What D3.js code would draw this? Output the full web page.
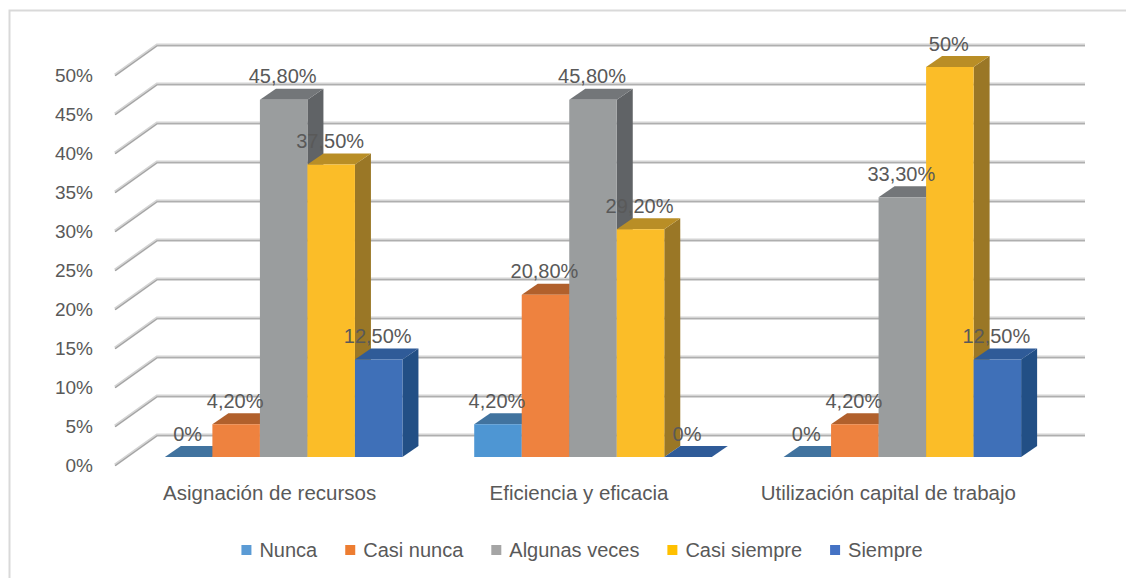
<!DOCTYPE html>
<html>
<head>
<meta charset="utf-8">
<script src="https://cdn.jsdelivr.net/npm/d3@7"></script>
<style>
  body { margin: 0; background: #fff; }
  svg { display: block; font-family: "Liberation Sans", Arial, sans-serif; }
</style>
</head>
<body>
<svg id="chart" width="1126" height="578"></svg>
<script>
// categories and series
const categories = ["Asignación de recursos", "Eficiencia y eficacia", "Utilización capital de trabajo"];
const series = ["Nunca", "Casi nunca", "Algunas veces", "Casi siempre", "Siempre"];

// values in % per category
const nunca = [0, 4.2, 0];
const casiNunca = [4.2, 20.8, 4.2];
const algunasVeces = [45.8, 45.8, 33.3];
const casiSiempre = [37.5, 29.2, 50];
const siempre = [12.5, 0, 12.5];

const yTicks = [0, 5, 10, 15, 20, 25, 30, 35, 40, 45, 50];

const values = [nunca, casiNunca, algunasVeces, casiSiempre, siempre];

// legend colour + shaded faces
const legendColors = ["#5B9BD5", "#ED7D31", "#A5A5A5", "#FFC000", "#4472C4"];
const frontColors = ["#4e96d3", "#ee823f", "#9a9d9e", "#fbbd28", "#3f70b8"];
const topColors = ["#41739f", "#b1602c", "#737679", "#b98e26", "#2f5b98"];
const sideColors = ["#36638a", "#9a5225", "#606366", "#9a7726", "#224f85"];

const textColor = "#595959";
const svg = d3.select("#chart");

// outer frame (only top/left visible)
svg.append("rect")
    .attr("x", 9.5).attr("y", 10.5)
    .attr("width", 1130).attr("height", 580)
    .attr("fill", "none").attr("stroke", "#d9d9d9").attr("stroke-width", 2);

const x = d3.scaleBand().domain(categories).range([129, 1057]).paddingInner(0.232).paddingOuter(0.116);
const xs = d3.scaleBand().domain(series).range([0, x.bandwidth()]);
const y = d3.scaleLinear().domain([0, 50]).range([457, 67]); // front plane of the bars

// 3d offsets
const wall = {dy: -22, x0: 157, x1: 1085, frontX: 115, frontDy: 8};
const depth = {dx: 16, dy: -11};

// gridlines: diagonal on the side wall, then across the back wall
const grid = svg.append("g");
yTicks.forEach(t => {
    const yb = y(t) + wall.dy;
    const p = `M${wall.frontX},${y(t) + wall.frontDy}L${wall.x0},${yb}L${wall.x1},${yb}`;
    grid.append("path").attr("d", p).attr("fill", "none")
        .attr("stroke", "#d4d4d4").attr("stroke-width", 3.2);
    grid.append("path").attr("d", p).attr("fill", "none")
        .attr("stroke", "#a2a2a2").attr("stroke-width", 1.1)
        .attr("transform", "translate(0,0.7)");
});

// y tick labels
svg.append("g").selectAll("text")
    .data(yTicks).enter().append("text")
    .attr("x", 93)
    .attr("y", d => y(d) + wall.frontDy + 7)
    .attr("text-anchor", "end")
    .attr("font-size", 19)
    .attr("fill", textColor)
    .text(d => d + "%");

// bars
const bars = svg.append("g");
const labelData = [];
categories.forEach((c, ci) => {
    series.forEach((s, si) => {
        const v = values[si][ci];
        const x0 = x(c) + xs(s);
        const w = xs.bandwidth();
        const yt = y(v);
        const yb = y(0);
        if (v > 0) {
            bars.append("polygon")
                .attr("points", [[x0 + w, yt], [x0 + w + depth.dx, yt + depth.dy], [x0 + w + depth.dx, yb + depth.dy], [x0 + w, yb]].join(" "))
                .attr("fill", sideColors[si]);
        }
        bars.append("polygon")
            .attr("points", [[x0, yt], [x0 + w, yt], [x0 + w + depth.dx, yt + depth.dy], [x0 + depth.dx, yt + depth.dy]].join(" "))
            .attr("fill", topColors[si]);
        if (v > 0) {
            bars.append("rect")
                .attr("x", x0).attr("y", yt)
                .attr("width", w).attr("height", yb - yt)
                .attr("fill", frontColors[si]);
        }
        labelData.push({x: x0 + w / 2 - 1, y: yt - 16.5, v: v});
    });
});

const fmt = v => Number.isInteger(v) ? v + "%" : v.toFixed(2).replace(".", ",") + "%";

svg.append("g").selectAll("text")
    .data(labelData).enter().append("text")
    .attr("x", d => d.x)
    .attr("y", d => d.y)
    .attr("text-anchor", "middle")
    .attr("font-size", 20)
    .attr("fill", textColor)
    .text(d => fmt(d.v));

// category labels
svg.append("g").selectAll("text")
    .data(categories).enter().append("text")
    .attr("x", d => x(d) + x.bandwidth() / 2 - 14)
    .attr("y", 500)
    .attr("text-anchor", "middle")
    .attr("font-size", 20.5)
    .attr("fill", textColor)
    .text(d => d);

// legend
const legend = svg.append("g");
const items = legend.selectAll("g").data(series).enter().append("g");
items.append("rect")
    .attr("y", 545).attr("width", 10).attr("height", 10)
    .attr("fill", (d, i) => legendColors[i]);
items.append("text")
    .attr("x", 18).attr("y", 557)
    .attr("font-size", 20)
    .attr("fill", textColor)
    .text(d => d);

let lx = 0;
const offsets = [];
items.each(function () {
    offsets.push(lx);
    lx += 18 + this.querySelector("text").getComputedTextLength() + 28;
});
const totalW = lx - 28;
const startX = 582 - totalW / 2;
items.attr("transform", (d, i) => `translate(${startX + offsets[i]},0)`);
</script>
</body>
</html>
